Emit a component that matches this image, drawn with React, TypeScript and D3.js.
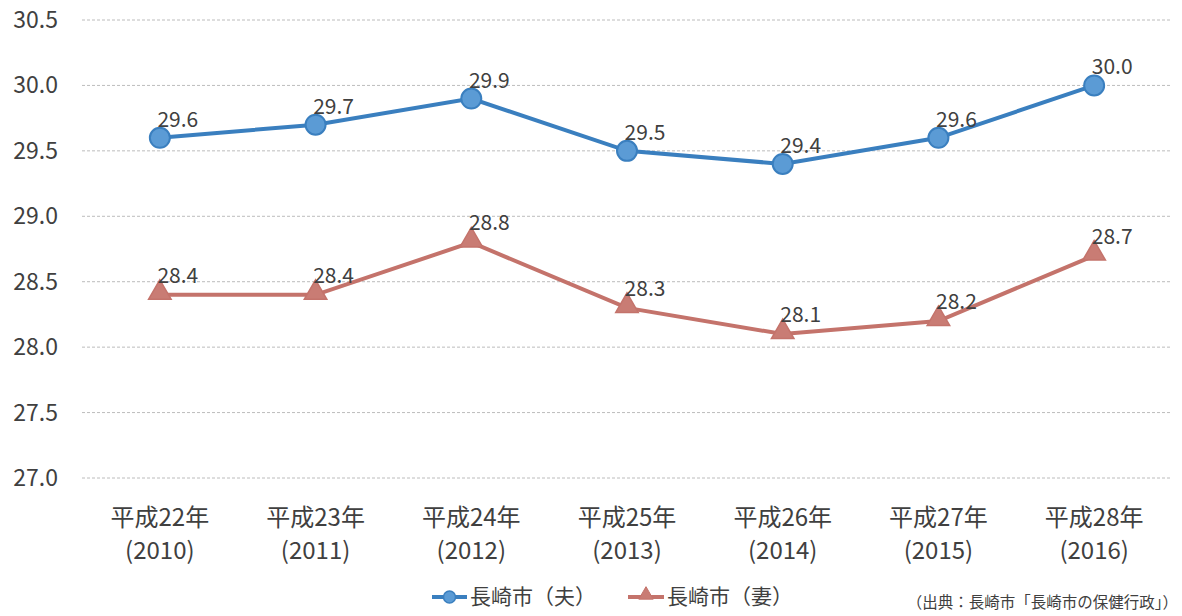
import React from "react";
import * as d3 from "d3";

const categories = ["平成22年", "平成23年", "平成24年", "平成25年", "平成26年", "平成27年", "平成28年"];
const years = ["(2010)", "(2011)", "(2012)", "(2013)", "(2014)", "(2015)", "(2016)"];
const husband = [29.6, 29.7, 29.9, 29.5, 29.4, 29.6, 30.0];
const wife = [28.4, 28.4, 28.8, 28.3, 28.1, 28.2, 28.7];
const yTicks = [27.0, 27.5, 28.0, 28.5, 29.0, 29.5, 30.0, 30.5];
const seriesNames = ["長崎市（夫）", "長崎市（妻）"];
const sourceText = "（出典：長崎市「長崎市の保健行政」）";

const W = 1182, H = 616;
const FONT = "'Noto Sans CJK JP', 'Open Sans', sans-serif";
const BLUE = "#3a7fbf";
const BLUE_FILL = "#5b9bd5";
const RED = "#c4736b";
const RED_FILL = "#c97c74";
const TEXT = "#404040";

export default function App() {
  const x = d3.scaleBand<string>().domain(categories).range([82, 1172]);
  const y = d3.scaleLinear().domain([27, 30.5]).range([478, 20]);
  const cx = (i: number) => (x(categories[i]) as number) + x.bandwidth() / 2;
  const line = d3.line<number>().x((_, i) => cx(i)).y((d) => y(d));
  const tri = d3.symbol().type(d3.symbolTriangle).size(220);

  return (
    <svg width={W} height={H} style={{ position: "absolute", left: 0, top: 0, background: "#fff" }} fontFamily={FONT}>
      <rect width={W} height={H} fill="#fff" />
      {yTicks.map((t) => (
        <g key={t}>
          <line x1={82} x2={1172} y1={y(t)} y2={y(t)} stroke="#bcbcbc" strokeWidth={1} strokeDasharray="3,2" />
          <text x={58} y={y(t)} dy="0.35em" textAnchor="end" fontSize={23} fill={TEXT}>{t.toFixed(1)}</text>
        </g>
      ))}
      {categories.map((c, i) => (
        <g key={c}>
          <text x={cx(i)} y={526} textAnchor="middle" fontSize={24} fill={TEXT}>{c}</text>
          <text x={cx(i)} y={559} textAnchor="middle" fontSize={24} fill={TEXT}>{years[i]}</text>
        </g>
      ))}
      <path d={line(husband) || ""} fill="none" stroke={BLUE} strokeWidth={4} />
      <path d={line(wife) || ""} fill="none" stroke={RED} strokeWidth={4} />
      {husband.map((v, i) => (
        <g key={"h" + i}>
          <circle cx={cx(i)} cy={y(v)} r={10} fill={BLUE_FILL} stroke={BLUE} strokeWidth={2} />
          <text x={cx(i) + 18} y={y(v) - 11} textAnchor="middle" fontSize={21} fill={TEXT}>{v.toFixed(1)}</text>
        </g>
      ))}
      {wife.map((v, i) => (
        <g key={"w" + i}>
          <path d={tri() || ""} transform={`translate(${cx(i)},${y(v) - 2})`} fill={RED_FILL} stroke={RED} strokeWidth={1.5} />
          <text x={cx(i) + 18} y={y(v) - 12} textAnchor="middle" fontSize={21} fill={TEXT}>{v.toFixed(1)}</text>
        </g>
      ))}
      <g>
        <line x1={432} x2={467} y1={597} y2={597} stroke={BLUE} strokeWidth={4} />
        <circle cx={449.5} cy={597} r={6} fill={BLUE_FILL} stroke={BLUE} strokeWidth={1.5} />
        <text x={470} y={597} dy="0.35em" fontSize={21} fill={TEXT}>{seriesNames[0]}</text>
        <line x1={628} x2={664} y1={597} y2={597} stroke={RED} strokeWidth={4} />
        <path d={d3.symbol().type(d3.symbolTriangle).size(90)() || ""} transform="translate(646,595)" fill={RED_FILL} stroke={RED} strokeWidth={1} />
        <text x={667} y={597} dy="0.35em" fontSize={21} fill={TEXT}>{seriesNames[1]}</text>
        <text x={1178} y={603} dy="0.35em" textAnchor="end" fontSize={15.5} fill={TEXT}>{sourceText}</text>
      </g>
    </svg>
  );
}
